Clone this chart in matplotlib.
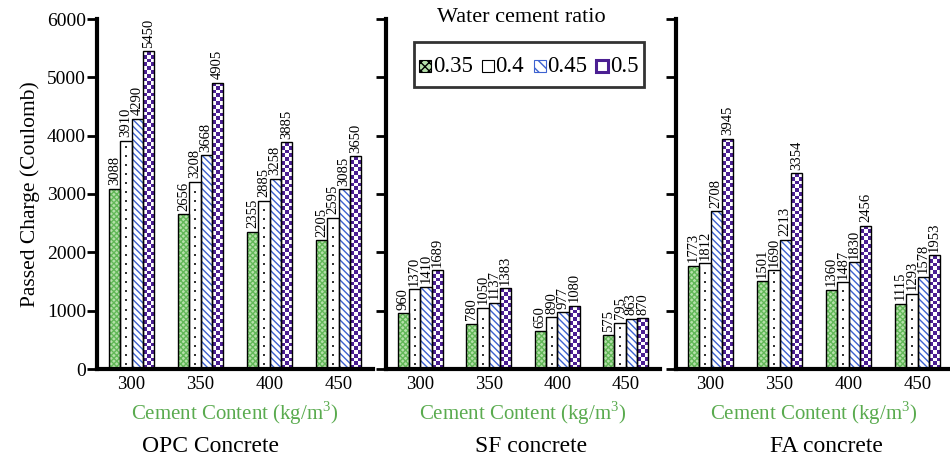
import numpy as np
import matplotlib
matplotlib.use("Agg")
import matplotlib.pyplot as plt
from matplotlib.patches import Patch, Rectangle
from matplotlib.legend_handler import HandlerPatch
from matplotlib.colors import ListedColormap

plt.rcParams['font.family'] = ['Liberation Serif', 'DejaVu Serif']
plt.rcParams['mathtext.fontset'] = 'custom'
plt.rcParams['mathtext.rm'] = 'Liberation Serif'
plt.rcParams['hatch.linewidth'] = 1.0

# data
cement = ['300', '350', '400', '450']
wc_ratio = ['0.35', '0.4', '0.45', '0.5']
panels = ['OPC Concrete', 'SF concrete', 'FA concrete']

opc = [[3088, 2656, 2355, 2205],
       [3910, 3208, 2885, 2595],
       [4290, 3668, 3258, 3085],
       [5450, 4905, 3885, 3650]]
sf = [[960, 780, 650, 575],
      [1370, 1050, 890, 795],
      [1410, 1137, 977, 863],
      [1689, 1383, 1080, 870]]
fa = [[1773, 1501, 1360, 1115],
      [1812, 1690, 1487, 1293],
      [2708, 2213, 1830, 1578],
      [3945, 3354, 2456, 1953]]

green_face = '#b5e0aa'
green_hatch = '#62b858'
blue = '#3d62d0'
purple = '#4b1f92'
label_green = '#5aab4f'

fig = plt.figure(figsize=(9.5, 4.62), dpi=100)
W, H = 950.0, 462.0
axes_px = [(97, 373), (386, 660), (676, 952)]
bottom_px, top_px = 369, 19
title_x = [211, 531, 826]

bw = 0.165
x = np.arange(len(cement))


def draw_series(ax, i, vals):
    pos = x + (i - 1.5) * bw
    if i == 0:
        ax.bar(pos, vals, bw, color=green_face, edgecolor=green_hatch, hatch='xxxxxx', lw=0, zorder=2)
    elif i == 1:
        ax.bar(pos, vals, bw, color='white', lw=0, zorder=2)
        for p, v in zip(pos, vals):
            yy = np.arange(90, v - 40, 155)
            ax.scatter(np.full(len(yy), p), yy, s=1.5, marker='s', color='#333333', lw=0, zorder=2.5)
    elif i == 2:
        ax.bar(pos, vals, bw, color='white', edgecolor=blue, hatch='\\\\\\\\\\', lw=0, zorder=2)
    else:
        bars = ax.bar(pos, vals, bw, color='white', lw=0, zorder=2)
        for b in bars:
            x0, y0 = b.get_x(), b.get_y()
            w, h = b.get_width(), b.get_height()
            ny = max(1, int(round(h / 65.0)))
            board = (np.add.outer(np.arange(ny), np.arange(3)) % 2).astype(float)
            im = ax.imshow(board, extent=(x0, x0 + w, y0, y0 + h), origin='lower',
                           cmap=ListedColormap([purple, 'white']),
                           interpolation='nearest', aspect='auto', zorder=2.5)
            im.set_clip_path(b)
    ax.bar(pos, vals, bw, fill=False, edgecolor='black', lw=1.0, zorder=3)
    for p, v in zip(pos, vals):
        ax.text(p, v + 60, str(v), rotation=90, ha='center', va='bottom', fontsize=10.5, zorder=4)


def small_square(legend, orig_handle, xdescent, ydescent, width, height, fontsize):
    s = 12 * 72.0 / 100
    return Rectangle((-xdescent + (width - s) / 2, -ydescent + (height - s) / 2 - 1), s, s)


for k, (name, data) in enumerate(zip(panels, [opc, sf, fa])):
    l, r = axes_px[k]
    ax = fig.add_axes([l / W, 1 - bottom_px / H, (r - l) / W, (bottom_px - top_px) / H])
    for i in range(4):
        draw_series(ax, i, data[i])
    ax.set_xlim(-0.5, 3.5)
    ax.set_ylim(0, 6000)
    ax.set_yticks(range(0, 6001, 1000))
    ax.set_xticks(x)
    ax.set_xticklabels(cement, fontsize=13.5)
    ax.tick_params(axis='x', length=0, pad=5)
    ax.tick_params(axis='y', length=7, width=2, direction='out', labelsize=14, pad=1)
    if k > 0:
        ax.set_yticklabels([])
    else:
        ax.set_ylabel('Passed Charge (Coulomb)', fontsize=15.5, labelpad=5)
    for s in ['top', 'right']:
        ax.spines[s].set_visible(False)
    for s in ['left', 'bottom']:
        ax.spines[s].set_linewidth(3)
    ax.set_xlabel('Cement Content (kg/m$^{\\mathrm{3}}$)', color=label_green, fontsize=15, labelpad=5)
    fig.text(title_x[k] / W, 1 - 446 / H, name, ha='center', va='center', fontsize=17)

    if k == 1:
        handles = [Patch(facecolor=green_face, edgecolor='black', hatch='xxxx', lw=0.8),
                   Patch(facecolor='white', edgecolor='black', lw=0.8),
                   Patch(facecolor='white', edgecolor=blue, hatch='\\\\\\', lw=0.8),
                   Patch(facecolor='white', edgecolor=purple, lw=2.2)]
        leg = ax.legend(handles, wc_ratio, ncol=4, loc='upper center', bbox_to_anchor=(0.522, 0.934),
                        fontsize=16.5, frameon=True, fancybox=False, edgecolor='black',
                        handlelength=0.5, handleheight=1.85, handletextpad=0.08,
                        columnspacing=0.42, borderpad=0.25, borderaxespad=0,
                        handler_map={Patch: HandlerPatch(patch_func=small_square)})
        leg.get_frame().set_linewidth(2)
        ax.text(0.495, 1.005, 'Water cement ratio', transform=ax.transAxes, ha='center', va='center', fontsize=16)

fig.savefig('out.png', dpi=100)
